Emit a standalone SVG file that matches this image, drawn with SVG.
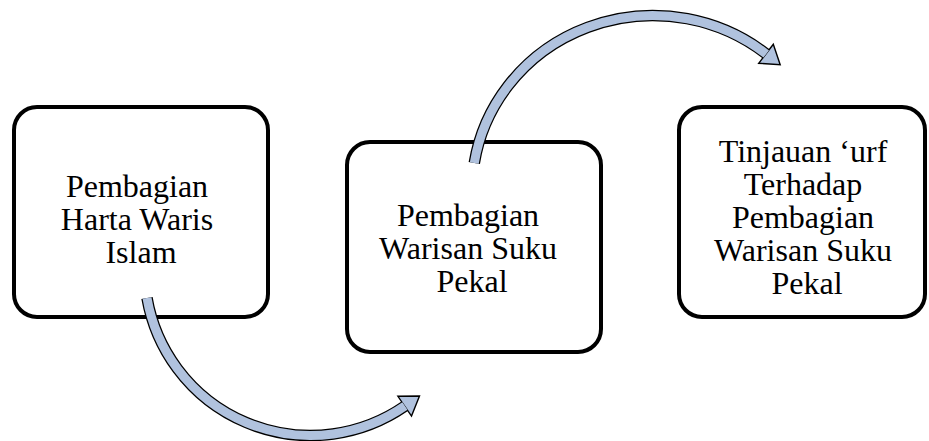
<svg xmlns="http://www.w3.org/2000/svg" width="929" height="441" viewBox="0 0 929 441">
  <style>
    .box { fill: #ffffff; stroke: #000000; stroke-width: 4; }
    .label { font-family: "Liberation Serif", "Times New Roman", serif; font-size: 32px; fill: #000000; text-anchor: middle; }
    .shaft-edge { fill: none; stroke: #000000; stroke-width: 11.5; stroke-linecap: butt; }
    .shaft-fill { fill: none; stroke: #b0c2de; stroke-width: 9; stroke-linecap: butt; }
    .head { fill: #b0c2de; stroke: #000000; stroke-width: 1.4; stroke-linejoin: miter; }
  </style>
  <rect width="929" height="441" fill="#ffffff"/>

  <g id="node-harta-waris-islam">
    <rect class="box" x="14" y="107" width="254" height="210" rx="23" ry="23"/>
    <text class="label">
      <tspan x="141" y="197">Pembagian</tspan>
      <tspan x="141" y="230">Harta Waris</tspan>
      <tspan x="141" y="263">Islam</tspan>
    </text>
  </g>

  <g id="node-warisan-suku-pekal">
    <rect class="box" x="347" y="142" width="254" height="210" rx="23" ry="23"/>
    <text class="label">
      <tspan x="472" y="226">Pembagian</tspan>
      <tspan x="472" y="259">Warisan Suku</tspan>
      <tspan x="472" y="292">Pekal</tspan>
    </text>
  </g>

  <g id="node-tinjauan-urf">
    <rect class="box" x="679" y="107" width="246" height="210" rx="23" ry="23"/>
    <text class="label">
      <tspan x="807" y="162">Tinjauan ‘urf</tspan>
      <tspan x="807" y="195">Terhadap</tspan>
      <tspan x="807" y="228">Pembagian</tspan>
      <tspan x="807" y="261">Warisan Suku</tspan>
      <tspan x="807" y="294">Pekal</tspan>
    </text>
  </g>

  <g id="connectors">
    <!-- lower curved arrow: first box to second box -->
    <g id="arrow-1">
      <path class="shaft-edge" d="M147 298 A166 166 0 0 0 404.7 406.2"/>
      <polygon class="head" points="419.5,396 411.5,416.1 397.9,396.3"/>
      <path class="shaft-fill" d="M147 298 A166 166 0 0 0 404.9 406.06"/>
    </g>
    <!-- upper curved arrow: second box to third box -->
    <g id="arrow-2">
      <path class="shaft-edge" d="M474.3 163 A181 175 0 0 1 766 53.8"/>
      <polygon class="head" points="780.2,64.8 773.3,44.3 758.7,63.3"/>
      <path class="shaft-fill" d="M474.3 163 A181 175 0 0 1 766.2 53.95"/>
    </g>
  </g>
</svg>
